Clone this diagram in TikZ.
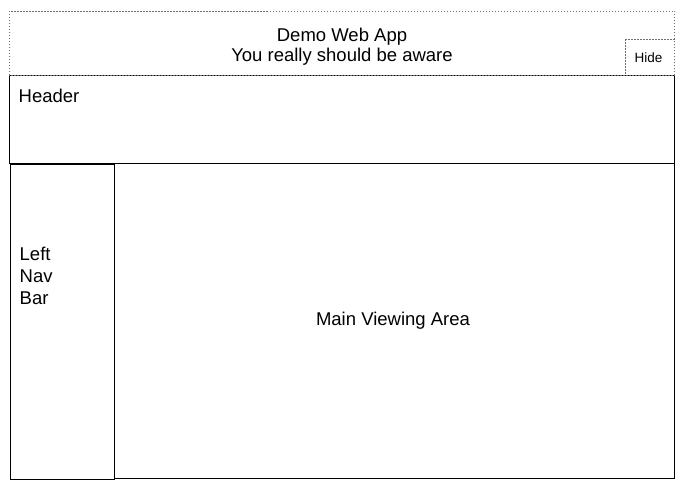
\documentclass[tikz,border=0pt]{standalone}
\usepackage{fontspec}
\setmainfont{Liberation Sans}
\usepackage{xcolor}

\begin{document}
\begin{tikzpicture}[x=1pt,y=-1pt]
% Define layout colours and styles
\definecolor{dots}{RGB}{110,110,110}
\tikzset{
  frame/.style={line width=1pt,draw=black},
  banner/.style={line width=0.9pt,draw=dots,dash pattern=on 1.5pt off 1.5pt},
  label/.style={inner sep=0pt,font=\fontsize{18.5}{21.7}\selectfont},
  small/.style={inner sep=0pt,font=\fontsize{13.5}{16}\selectfont},
}
\useasboundingbox (0,0) rectangle (685,489);

% Draw page regions
\draw[frame] (9,75.5) rectangle (674.5,164);
\draw[frame] (10.5,164.5) rectangle (114.3,479);
\draw[frame] (114.3,164) rectangle (674,478);

% Draw banner boxes
\draw[banner] (9,11) rectangle (674.5,75);
\draw[banner] (625.8,39.3) rectangle (674.5,75);

% Add region labels (base = last line)
\node[label,anchor=base,align=center] (title) at (342,61.8) {Demo Web App\\[-1.7pt]You really should be aware};
\node[small,anchor=base] (hide) at (648.5,62.5) {Hide};
\node[label,anchor=base west] (header) at (18.5,103) {Header};
\node[label,anchor=base west,align=left] (leftnav) at (19.5,304) {Left\\Nav\\Bar};
\node[label,anchor=base] (mainarea) at (393,325.7) {Main Viewing Area};
\end{tikzpicture}
\end{document}
